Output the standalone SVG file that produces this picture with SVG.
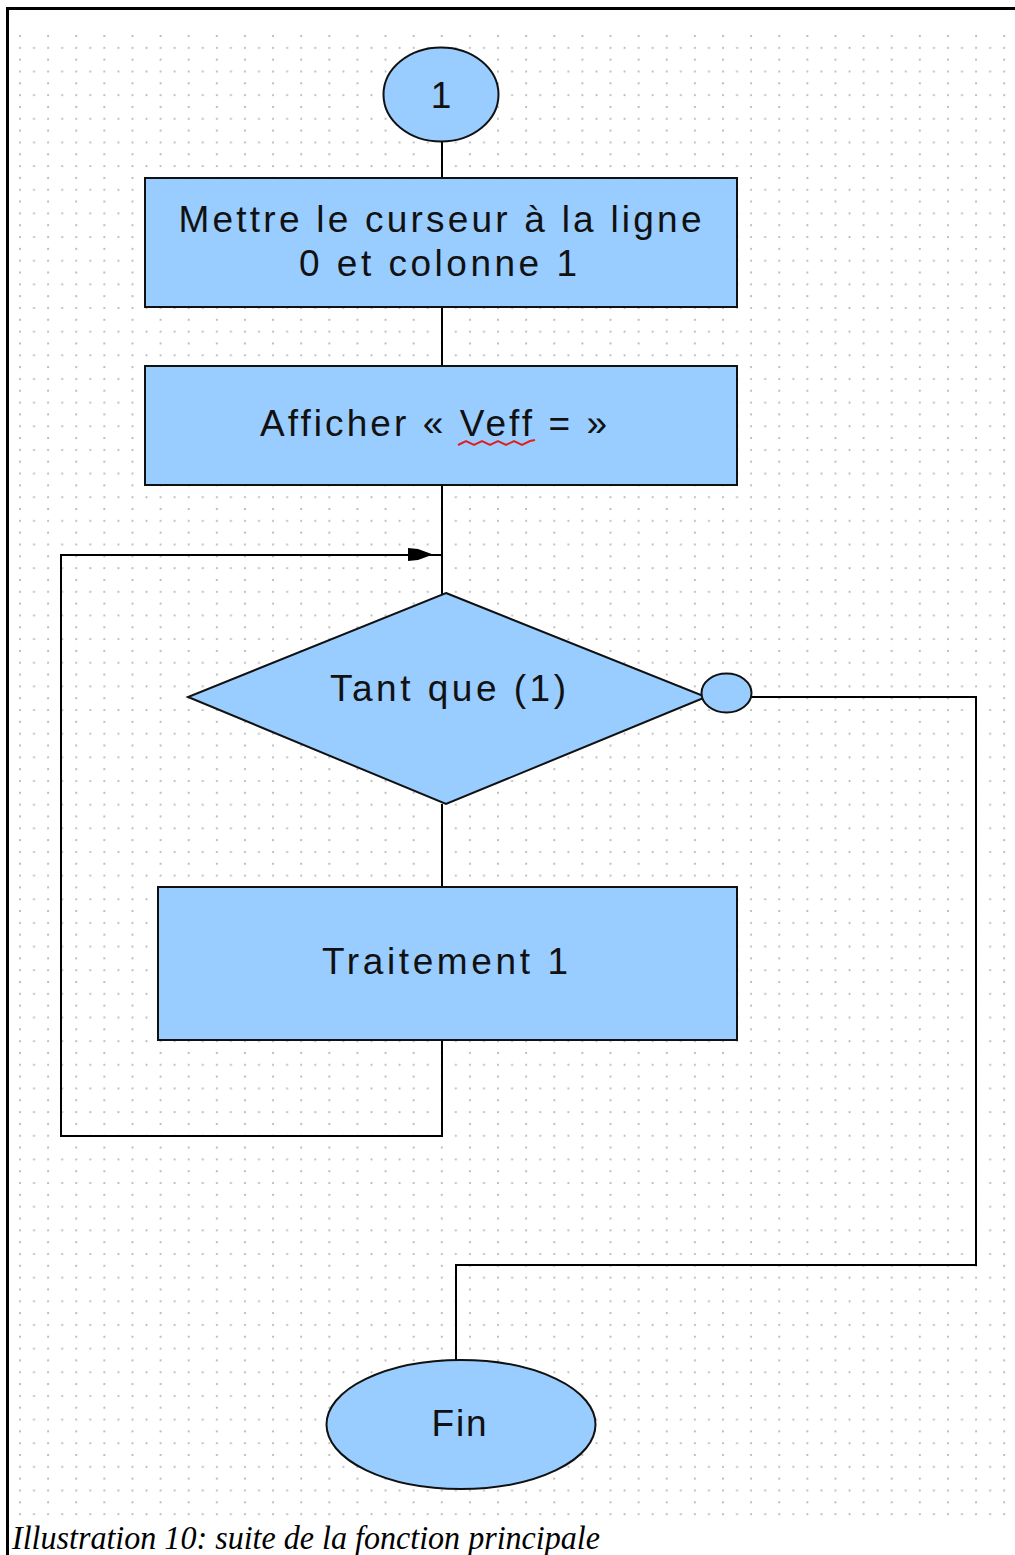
<svg xmlns="http://www.w3.org/2000/svg" width="1015" height="1555" viewBox="0 0 1015 1555">
<style>
.shape{fill:#99ccff;stroke:#111;stroke-width:2}
.conn{fill:none;stroke:#000;stroke-width:2}
.lbl{font-family:"Liberation Sans",Arial,sans-serif;font-size:37px;fill:#111;text-anchor:middle}
.cap{font-family:"Liberation Serif","Times New Roman",serif;font-style:italic;font-size:33px;fill:#000}
</style>
<defs>
<pattern id="grid" patternUnits="userSpaceOnUse" x="19" y="35" width="28.12" height="23.65">
<circle cx="1" cy="1" r="1.1" fill="#b8b8b8"/>
<circle cx="1" cy="12.83" r="1.1" fill="#b8b8b8"/>
<circle cx="15.06" cy="12.83" r="1.1" fill="#b8b8b8"/>
</pattern>
</defs>
<rect x="0" y="0" width="1015" height="1555" fill="#fff"/>
<rect x="16" y="33" width="992" height="1484" fill="url(#grid)"/>
<rect x="6" y="7" width="1009" height="3" fill="#000"/>
<rect x="6" y="7" width="3" height="1548" fill="#000"/>

<g id="connectors">
<path class="conn" d="M442,142 V178"/>
<path class="conn" d="M442,307 V366"/>
<path class="conn" d="M442,485 V594"/>
<path class="conn" d="M442,804 V887"/>
<path class="conn" d="M442,1040 V1136 H61 V555 H442"/>
<polygon points="408,548 418,549 433,554.5 418,560 408,561" fill="#000"/>
<path class="conn" d="M751,697 H976 V1265 H456 V1360"/>
</g>

<g id="start">
<ellipse class="shape" cx="441" cy="94.5" rx="57.5" ry="47"/>
<text class="lbl" x="441" y="108">1</text>
</g>

<g id="cursor">
<rect class="shape" x="145" y="178" width="592" height="129"/>
<text class="lbl" x="440" y="232" textLength="523" lengthAdjust="spacing">Mettre le curseur à la ligne</text>
<text class="lbl" x="438" y="276" textLength="278" lengthAdjust="spacing">0 et colonne 1</text>
</g>

<g id="afficher">
<rect class="shape" x="145" y="366" width="592" height="119"/>
<text class="lbl" x="433.5" y="436" textLength="347" lengthAdjust="spacing">Afficher « Veff = »</text>
<path d="M458,445 l8,-4 l8,4 l8,-4 l8,4 l8,-4 l8,4 l8,-4 l8,4 l8,-4 l5,-1" fill="none" stroke="#e02020" stroke-width="2"/>
</g>

<g id="tantque">
<polygon class="shape" points="446,593 706,697 446,804 188,697"/>
<text class="lbl" x="448" y="701" textLength="236" lengthAdjust="spacing">Tant que (1)</text>
</g>

<g id="exit">
<ellipse class="shape" cx="726.5" cy="693" rx="25" ry="19.5"/>
</g>

<g id="traitement">
<rect class="shape" x="158" y="887" width="579" height="153"/>
<text class="lbl" x="445" y="974" textLength="246" lengthAdjust="spacing">Traitement 1</text>
</g>

<g id="fin">
<ellipse class="shape" cx="461" cy="1424.5" rx="134.5" ry="64.5"/>
<text class="lbl" x="459" y="1436" textLength="55" lengthAdjust="spacing">Fin</text>
</g>

<text class="cap" x="12" y="1549" textLength="588" lengthAdjust="spacingAndGlyphs">Illustration 10: suite de la fonction principale</text>
</svg>
